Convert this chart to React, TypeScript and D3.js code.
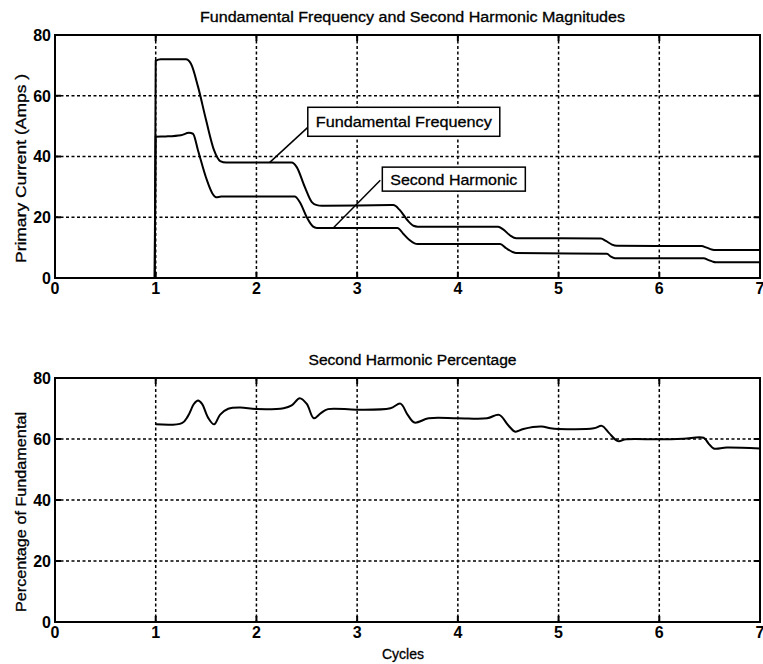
import React from "react";
import * as d3 from "d3";

// ---------- data ----------
const xTicks = [0, 1, 2, 3, 4, 5, 6, 7];
const yTicks = [0, 20, 40, 60, 80];

const fundCycles = [0, 0.99, 1.0, 1.05, 1.3, 1.35, 1.42, 1.5, 1.58, 1.64, 1.7, 2.35, 2.4, 2.48, 2.55, 2.6, 2.65, 3.36, 3.42, 3.5, 3.56, 3.6, 4.4, 4.45, 4.52, 4.58, 5.42, 5.47, 5.53, 5.58, 6.42, 6.47, 6.52, 6.56, 7.0];
const fundValues = [0, 0, 71.5, 72, 72, 70.5, 63, 52, 42, 38.5, 38, 38, 36.5, 30, 25, 24, 23.8, 24, 22.5, 19, 17.2, 16.9, 16.9, 16, 14, 13.1, 13, 12.2, 11, 10.6, 10.5, 10, 9.4, 9.2, 9.2];

const harmCycles = [0, 0.99, 1.0, 1.1, 1.25, 1.33, 1.37, 1.42, 1.5, 1.56, 1.6, 1.65, 2.38, 2.43, 2.5, 2.56, 2.6, 3.4, 3.46, 3.52, 3.57, 3.6, 4.42, 4.48, 4.54, 4.58, 5.48, 5.52, 5.56, 6.44, 6.49, 6.53, 6.56, 7.0];
const harmValues = [0, 0, 46.5, 46.6, 47, 47.8, 47.5, 42, 33, 28, 26.6, 26.8, 26.8, 25, 20, 17, 16.5, 16.5, 14.5, 12.5, 11.4, 11.2, 11.2, 9.8, 8.6, 8.2, 8.0, 7.0, 6.5, 6.5, 5.9, 5.4, 5.2, 5.2];

const pctCycles = [1.0, 1.26, 1.32, 1.38, 1.42, 1.46, 1.52, 1.58, 1.64, 1.72, 1.84, 2.0, 2.27, 2.35, 2.43, 2.5, 2.57, 2.64, 2.71, 3.0, 3.33, 3.43, 3.5, 3.57, 3.71, 4.0, 4.29, 4.41, 4.5, 4.57, 4.65, 4.83, 4.92, 5.0, 5.35, 5.43, 5.5, 5.59, 5.67, 6.0, 6.24, 6.44, 6.49, 6.54, 6.67, 7.0];
const pctValues = [64.8, 65.2, 67.5, 71.5, 72.6, 71.5, 67, 64.8, 68, 69.9, 70.3, 69.8, 70.1, 71, 73.4, 71.5, 66.8, 68.5, 69.8, 69.6, 70.1, 71.6, 68, 65.4, 66.8, 66.8, 66.8, 67.9, 64.5, 62.4, 63.3, 64.1, 63.5, 63.3, 63.5, 64.3, 62, 59.3, 59.9, 59.9, 60.1, 60.4, 58.5, 56.9, 57.2, 56.9];

const topTitle = "Fundamental Frequency and Second Harmonic Magnitudes";
const bottomTitle = "Second Harmonic Percentage";
const topYLabel = "Primary Current (Amps )";
const bottomYLabel = "Percentage of Fundamental";
const xLabel = "Cycles";

// annotations: label, anchor point on curve, box corner (data units)
const annotations = [
  { label: "Fundamental Frequency", px: 2.13, py: 38, bx: 2.51, by: 56.2, lx: 2.51, ly: 49.6, w: 192 },
  { label: "Second Harmonic", px: 2.76, py: 16.4, bx: 3.25, by: 36.5, lx: 3.23, ly: 32.2, w: 143 },
];

const W = 763;
const H = 664;
const FONT = "'Liberation Sans', Arial, Helvetica, sans-serif";

type Panel = { top: number; bottom: number };
const left = 55;
const right = 760;
const topPanel: Panel = { top: 35, bottom: 278 };
const botPanel: Panel = { top: 378, bottom: 622 };

function Axes({ panel, x, y, title, titleLen, ylabel, ylabelLen }: any) {
  return (
    <g>
      {/* grid */}
      {xTicks.slice(1, -1).map((t) => (
        <line key={"gx" + t} x1={x(t)} x2={x(t)} y1={panel.top} y2={panel.bottom} stroke="#000" strokeWidth={1.5} strokeDasharray="3 2.5" />
      ))}
      {yTicks.slice(1, -1).map((t) => (
        <line key={"gy" + t} x1={left} x2={right} y1={y(t)} y2={y(t)} stroke="#000" strokeWidth={1.5} strokeDasharray="3 2.5" />
      ))}
      {/* ticks inward */}
      {xTicks.map((t) => (
        <g key={"tx" + t}>
          <line x1={x(t)} x2={x(t)} y1={panel.bottom} y2={panel.bottom - 6} stroke="#000" strokeWidth={2} />
          <line x1={x(t)} x2={x(t)} y1={panel.top} y2={panel.top + 6} stroke="#000" strokeWidth={2} />
          <text x={x(t)} y={panel.bottom + 16} textAnchor="middle" fontSize={16} fontWeight="bold" fontFamily={FONT}>{t}</text>
        </g>
      ))}
      {yTicks.map((t) => (
        <g key={"ty" + t}>
          <line x1={left} x2={left + 6} y1={y(t)} y2={y(t)} stroke="#000" strokeWidth={2} />
          <line x1={right} x2={right - 6} y1={y(t)} y2={y(t)} stroke="#000" strokeWidth={2} />
          <text x={left - 4} y={y(t)} dy="0.36em" textAnchor="end" fontSize={16} fontWeight="bold" fontFamily={FONT}>{t}</text>
        </g>
      ))}
      <rect x={left} y={panel.top} width={right - left} height={panel.bottom - panel.top} fill="none" stroke="#000" strokeWidth={2} />
      <text x={(left + right) / 2 + 5} y={panel.top - 13} textAnchor="middle" fontSize={14} fontFamily={FONT} textLength={titleLen} lengthAdjust="spacingAndGlyphs" stroke="#000" strokeWidth={0.3}>{title}</text>
      <text transform={`translate(26,${(panel.top + panel.bottom) / 2 + 12}) rotate(-90)`} textAnchor="middle" fontSize={15} fontFamily={FONT} textLength={ylabelLen} lengthAdjust="spacingAndGlyphs" stroke="#000" strokeWidth={0.3}>{ylabel}</text>
    </g>
  );
}

export default function App() {
  const x = d3.scaleLinear().domain([0, 7]).range([left, right]);
  const yTop = d3.scaleLinear().domain([0, 80]).range([topPanel.bottom, topPanel.top]);
  const yBot = d3.scaleLinear().domain([0, 80]).range([botPanel.bottom, botPanel.top]);

  const lineTop = d3.line<[number, number]>().x((d) => x(d[0])).y((d) => yTop(d[1])).curve(d3.curveMonotoneX);
  const lineBot = d3.line<[number, number]>().x((d) => x(d[0])).y((d) => yBot(d[1])).curve(d3.curveCatmullRom.alpha(0.5));

  const fund = fundCycles.map((c, i) => [c, fundValues[i]] as [number, number]);
  const harm = harmCycles.map((c, i) => [c, harmValues[i]] as [number, number]);
  const pct = pctCycles.map((c, i) => [c, pctValues[i]] as [number, number]);

  return (
    <svg width={W} height={H} style={{ position: "absolute", left: 0, top: 0, background: "#fff" }}>
      <rect width={W} height={H} fill="#fff" />
      <Axes panel={topPanel} x={x} y={yTop} title={topTitle} titleLen={425} ylabel={topYLabel} ylabelLen={189} />
      <Axes panel={botPanel} x={x} y={yBot} title={bottomTitle} titleLen={208} ylabel={bottomYLabel} ylabelLen={200} />
      <path d={lineTop(fund) || ""} fill="none" stroke="#000" strokeWidth={2} />
      <path d={lineTop(harm) || ""} fill="none" stroke="#000" strokeWidth={2} />
      <path d={lineBot(pct) || ""} fill="none" stroke="#000" strokeWidth={2} />
      {annotations.map((a) => {
        const bx = x(a.bx);
        const by = yTop(a.by);
        const h = 29 - (a.label === "Second Harmonic" ? 5 : 0);
        return (
          <g key={a.label}>
            <line x1={x(a.px)} y1={yTop(a.py)} x2={x(a.lx)} y2={yTop(a.ly)} stroke="#000" strokeWidth={1.5} />
            <rect x={bx} y={by} width={a.w} height={h} fill="#fff" stroke="#000" strokeWidth={1.5} />
            <text x={bx + a.w / 2} y={by + h / 2} dy="0.36em" textAnchor="middle" fontSize={15} fontFamily={FONT} textLength={a.w - 16} lengthAdjust="spacingAndGlyphs" stroke="#000" strokeWidth={0.3}>{a.label}</text>
          </g>
        );
      })}
      <text x={403} y={659} textAnchor="middle" fontSize={14} fontFamily={FONT} stroke="#000" strokeWidth={0.3}>{xLabel}</text>
    </svg>
  );
}
